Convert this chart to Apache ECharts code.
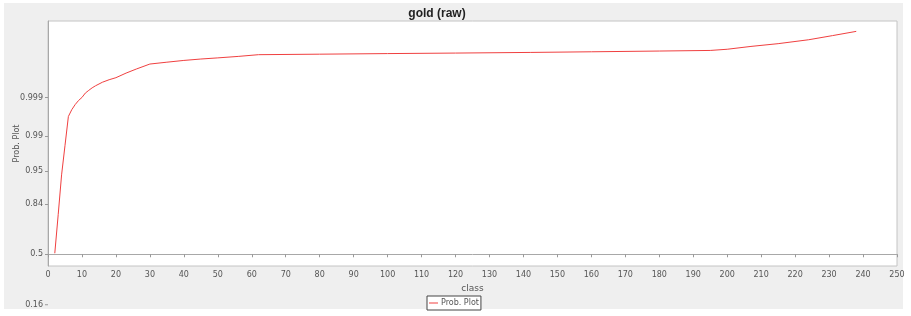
<!DOCTYPE html>
<html>
<head>
<meta charset="utf-8">
<script src="https://cdn.jsdelivr.net/npm/echarts@6/dist/echarts.min.js"></script>
<style>
html,body{margin:0;padding:0;background:#ffffff;}
#chart{width:911px;height:316px;}
</style>
</head>
<body>
<div id="chart"></div>
<script>
// ---- data ----
const chartTitle = 'gold (raw)';
const xName = 'class';
const yName = 'Prob. Plot';
const seriesName = 'Prob. Plot';
const classValues = [2, 3, 4, 5, 6, 7, 8, 9, 10, 11, 12, 13, 14, 16, 18, 20, 23, 26, 30, 35, 40, 45, 50, 56, 62, 80, 100, 120, 142, 160, 180, 195, 200, 207, 215, 224, 231, 238];
const probValues = [0.508, 0.7823, 0.9412, 0.9838, 0.99669, 0.99781, 0.99841, 0.99878, 0.99900, 0.999256, 0.999381, 0.999481, 0.999551, 0.999650, 0.999709, 0.999749, 0.999822, 0.999869, 0.9999112, 0.9999232, 0.9999333, 0.9999404, 0.9999456, 0.9999517, 0.9999581, 0.9999598, 0.9999617, 0.9999633, 0.9999652, 0.9999670, 0.9999690, 0.9999705, 0.9999733, 0.9999790, 0.9999834, 0.9999882, 0.9999918, 0.9999944];
const yTickLabels = ['0.5', '0.84', '0.95', '0.99', '0.999'];
const yOuterLabel = '0.16';
const xTicks = [0, 250, 10];

// inverse standard normal CDF (Acklam)
function normInv(p) {
  const a = [-3.969683028665376e+01, 2.209460984245205e+02, -2.759285104469687e+02, 1.383577518672690e+02, -3.066479806614716e+01, 2.506628277459239e+00];
  const b = [-5.447609879822406e+01, 1.615858368580409e+02, -1.556989798598866e+02, 6.680131188771972e+01, -1.328068155288572e+01];
  const c = [-7.784894002430293e-03, -3.223964580411365e-01, -2.400758277161838e+00, -2.549732539343734e+00, 4.374664141464968e+00, 2.938163982698783e+00];
  const d = [7.784695709041462e-03, 3.224671290700398e-01, 2.445134137142996e+00, 3.754408661907416e+00];
  const pl = 0.02425, ph = 1 - pl;
  let q, r;
  if (p < pl) {
    q = Math.sqrt(-2 * Math.log(p));
    return (((((c[0]*q+c[1])*q+c[2])*q+c[3])*q+c[4])*q+c[5]) / ((((d[0]*q+d[1])*q+d[2])*q+d[3])*q+1);
  } else if (p <= ph) {
    q = p - 0.5; r = q * q;
    return (((((a[0]*r+a[1])*r+a[2])*r+a[3])*r+a[4])*r+a[5])*q / (((((b[0]*r+b[1])*r+b[2])*r+b[3])*r+b[4])*r+1);
  } else {
    q = Math.sqrt(-2 * Math.log(1 - p));
    return -(((((c[0]*q+c[1])*q+c[2])*q+c[3])*q+c[4])*q+c[5]) / ((((d[0]*q+d[1])*q+d[2])*q+d[3])*q+1);
  }
}

const yTickZ = yTickLabels.map(s => normInv(parseFloat(s)));
const seriesData = classValues.map((x, i) => [x, normInv(probValues[i])]);

const labelFont = { fontFamily: 'DejaVu Sans', fontSize: 8, color: '#555555' };

const chart = echarts.init(document.getElementById('chart'), null, { renderer: 'canvas' });
const option = {
  backgroundColor: '#ffffff',
  animation: false,
  title: {
    text: chartTitle,
    left: 432, top: 3, textAlign: 'center',
    textStyle: { fontFamily: 'Liberation Sans', fontSize: 12, fontWeight: 'bold', color: '#222222' }
  },
  graphic: [
    { type: 'rect', z: -10, silent: true, shape: { x: 4, y: 3, width: 899, height: 306 }, style: { fill: '#efefef' } }
  ],
  legend: {
    data: [seriesName],
    left: 427, top: 296,
    itemWidth: 9, itemHeight: 1, itemGap: 4,
    padding: [3, 2, 3, 2],
    borderColor: '#444444', borderWidth: 1,
    backgroundColor: '#ffffff',
    icon: 'rect',
    textStyle: { fontFamily: 'DejaVu Sans', fontSize: 8, color: '#555555', padding: [0, 0, 0, -2] }
  },
  grid: {
    left: 48, right: 14, top: 21, bottom: 50,
    outerBoundsMode: 'none', containLabel: false,
    show: true, backgroundColor: '#ffffff', borderColor: '#c4c4c4', borderWidth: 1
  },
  xAxis: {
    type: 'value', min: xTicks[0], max: xTicks[1], interval: xTicks[2],
    name: xName, nameLocation: 'middle', nameGap: 15,
    nameTextStyle: { fontFamily: 'DejaVu Sans', fontSize: 9, color: '#555555' },
    axisLine: { show: true, lineStyle: { color: '#a8a8a8', width: 1 } },
    axisTick: { show: true, length: 3, lineStyle: { color: '#999999' } },
    axisLabel: Object.assign({ margin: 5 }, labelFont),
    splitLine: { show: false }
  },
  yAxis: {
    type: 'value', min: -0.231, max: 4.597,
    name: yName, nameLocation: 'middle', nameGap: 27, nameMoveOverlap: false,
    nameTextStyle: { fontFamily: 'DejaVu Sans', fontSize: 8, color: '#555555' },
    axisLine: { show: true, lineStyle: { color: '#a8a8a8', width: 1 } },
    axisTick: { show: true, length: 3, customValues: yTickZ, lineStyle: { color: '#999999' } },
    axisLabel: Object.assign({
      margin: 5,
      customValues: yTickZ,
      formatter: function (v) {
        let best = 0, bd = Infinity;
        yTickZ.forEach((z, i) => { const dd = Math.abs(z - v); if (dd < bd) { bd = dd; best = i; } });
        return yTickLabels[best];
      }
    }, labelFont),
    splitLine: { show: false }
  },
  series: [{
    name: seriesName,
    type: 'line',
    data: seriesData,
    showSymbol: false,
    symbol: 'none',
    lineStyle: { color: '#f04040', width: 1 },
    itemStyle: { color: '#f04040' }
  }]
};
chart.setOption(option);

// outer label below the plot area, placed with the axis scale
const zOuter = normInv(parseFloat(yOuterLabel));
const py = chart.convertToPixel({ yAxisIndex: 0 }, zOuter);
chart.setOption({
  graphic: [
    { type: 'rect', z: -10, silent: true, shape: { x: 4, y: 3, width: 899, height: 306 }, style: { fill: '#efefef' } },
    { type: 'text', x: 43, y: py, style: { text: yOuterLabel, align: 'right', verticalAlign: 'middle', font: '8px "DejaVu Sans"', fill: '#555555' } },
    { type: 'line', shape: { x1: 45, y1: py, x2: 48, y2: py }, style: { stroke: '#999999', lineWidth: 1 } }
  ]
});
</script>
</body>
</html>
